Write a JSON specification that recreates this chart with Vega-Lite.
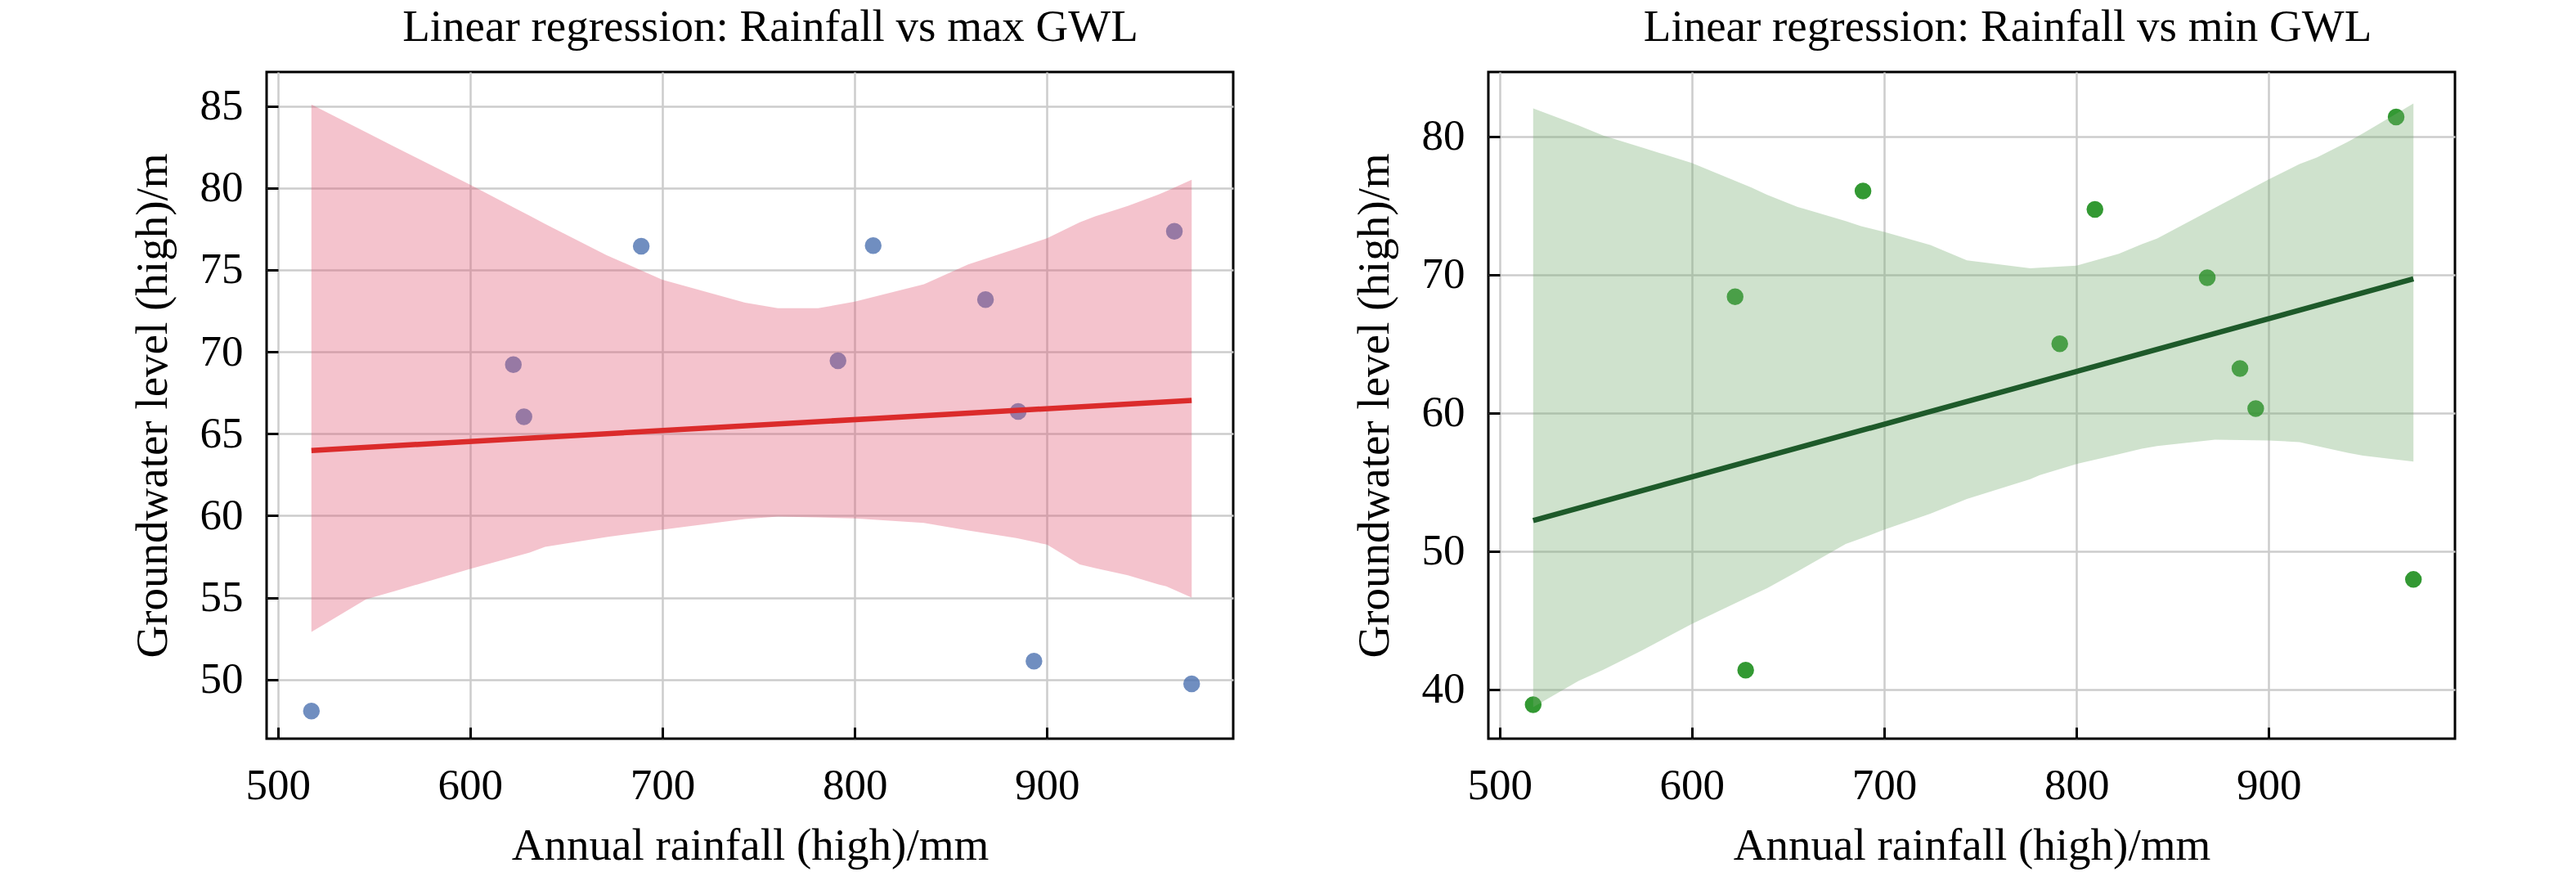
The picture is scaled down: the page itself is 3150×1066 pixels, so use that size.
{
  "$schema": "https://vega.github.io/schema/vega-lite/v6.json",
  "background": "white",
  "padding": {"left": 157, "top": 4, "right": 5, "bottom": 2},
  "spacing": 141,
  "config": {
    "view": {"stroke": "#000000", "strokeWidth": 3, "fill": "white"},
    "font": "Liberation Serif",
    "axis": {
      "labelFont": "Liberation Serif", "labelFontSize": 53, "labelColor": "#000000",
      "titleFont": "Liberation Serif", "titleFontSize": 55, "titleFontWeight": "normal", "titleColor": "#000000",
      "domain": false, "ticks": true, "tickSize": -14, "tickWidth": 3, "tickColor": "#000000",
      "grid": true, "gridColor": "#cccccc", "gridWidth": 2.5,
      "labelOverlap": false, "labelFlush": false
    },
    "axisX": {"labelPadding": 45, "titleBaseline": "alphabetic", "titleX": 591, "titleY": 147},
    "axisY": {"labelPadding": 43, "titleBaseline": "alphabetic", "titleX": -123, "titleY": 407.5, "titleAngle": 270},
    "title": {"font": "Liberation Serif", "fontSize": 55, "fontWeight": "normal", "color": "#000000", "baseline": "alphabetic", "offset": 26.5}
  },
  "datasets": {
    "points": [
      {"rainfall": 517.5, "max_gwl": 48.07, "min_gwl": 38.87},
      {"rainfall": 622.5, "max_gwl": 69.22, "min_gwl": 68.4},
      {"rainfall": 628.0, "max_gwl": 66.03, "min_gwl": 41.37},
      {"rainfall": 689.0, "max_gwl": 76.45, "min_gwl": 76.05},
      {"rainfall": 791.3, "max_gwl": 69.45, "min_gwl": 65.0},
      {"rainfall": 809.6, "max_gwl": 76.48, "min_gwl": 74.72},
      {"rainfall": 868.0, "max_gwl": 73.19, "min_gwl": 69.77},
      {"rainfall": 885.0, "max_gwl": 66.36, "min_gwl": 63.2},
      {"rainfall": 893.2, "max_gwl": 51.12, "min_gwl": 60.3},
      {"rainfall": 966.2, "max_gwl": 77.36, "min_gwl": 81.41},
      {"rainfall": 975.2, "max_gwl": 49.73, "min_gwl": 47.94}
    ],
    "band_max": [
      {"rainfall": 517.5, "lower": 52.9, "upper": 85.1},
      {"rainfall": 546, "lower": 54.9, "upper": 83.4},
      {"rainfall": 561, "lower": 55.4, "upper": 82.5},
      {"rainfall": 600, "lower": 56.75, "upper": 80.2},
      {"rainfall": 631, "lower": 57.75, "upper": 78.3},
      {"rainfall": 639, "lower": 58.1, "upper": 77.8},
      {"rainfall": 671, "lower": 58.7, "upper": 75.9},
      {"rainfall": 700, "lower": 59.15, "upper": 74.4},
      {"rainfall": 743, "lower": 59.8, "upper": 73.0},
      {"rainfall": 760, "lower": 59.95, "upper": 72.66},
      {"rainfall": 781, "lower": 59.9, "upper": 72.66},
      {"rainfall": 800, "lower": 59.83, "upper": 73.06},
      {"rainfall": 836, "lower": 59.56, "upper": 74.13},
      {"rainfall": 859, "lower": 59.1, "upper": 75.33},
      {"rainfall": 884, "lower": 58.63, "upper": 76.3},
      {"rainfall": 900, "lower": 58.23, "upper": 76.93},
      {"rainfall": 917, "lower": 57.03, "upper": 77.9},
      {"rainfall": 925, "lower": 56.8, "upper": 78.27},
      {"rainfall": 942, "lower": 56.36, "upper": 78.9},
      {"rainfall": 958, "lower": 55.8, "upper": 79.6},
      {"rainfall": 962, "lower": 55.69, "upper": 79.8},
      {"rainfall": 975.2, "lower": 55.0, "upper": 80.5}
    ],
    "band_min": [
      {"rainfall": 517.5, "lower": 38.7, "upper": 82.03},
      {"rainfall": 541, "lower": 40.6, "upper": 80.8},
      {"rainfall": 554, "lower": 41.4, "upper": 80.06},
      {"rainfall": 574, "lower": 42.8, "upper": 79.2},
      {"rainfall": 600, "lower": 44.72, "upper": 78.07},
      {"rainfall": 631, "lower": 46.78, "upper": 76.3},
      {"rainfall": 639, "lower": 47.3, "upper": 75.78},
      {"rainfall": 655, "lower": 48.53, "upper": 74.9},
      {"rainfall": 680, "lower": 50.5, "upper": 73.88},
      {"rainfall": 688, "lower": 50.9, "upper": 73.5},
      {"rainfall": 700, "lower": 51.54, "upper": 73.09},
      {"rainfall": 724, "lower": 52.7, "upper": 72.14},
      {"rainfall": 743, "lower": 53.76, "upper": 71.03},
      {"rainfall": 776, "lower": 55.2, "upper": 70.46},
      {"rainfall": 781, "lower": 55.5, "upper": 70.5},
      {"rainfall": 800, "lower": 56.29, "upper": 70.65},
      {"rainfall": 822, "lower": 57.0, "upper": 71.5},
      {"rainfall": 834, "lower": 57.4, "upper": 72.2},
      {"rainfall": 842, "lower": 57.6, "upper": 72.61},
      {"rainfall": 872, "lower": 58.05, "upper": 74.83},
      {"rainfall": 900, "lower": 58.0, "upper": 76.89},
      {"rainfall": 916, "lower": 57.88, "upper": 78.0},
      {"rainfall": 925, "lower": 57.6, "upper": 78.48},
      {"rainfall": 941, "lower": 57.1, "upper": 79.6},
      {"rainfall": 949, "lower": 56.9, "upper": 80.22},
      {"rainfall": 975.2, "lower": 56.47, "upper": 82.38}
    ]
  },
  "hconcat": [
    {
      "width": 1182,
      "height": 815,
      "title": {"text": "Linear regression: Rainfall vs max GWL", "dx": 25},
      "layer": [
        {
          "data": {"name": "points"},
          "mark": {"type": "point", "filled": true, "size": 420, "opacity": 0.8, "color": "#4c72b0"},
          "encoding": {
            "x": {"field": "rainfall", "type": "quantitative", "title": "Annual rainfall (high)/mm",
                  "scale": {"domain": [494.2, 996.8], "nice": false, "zero": false},
                  "axis": {"values": [500, 600, 700, 800, 900]}},
            "y": {"field": "max_gwl", "type": "quantitative", "title": "Groundwater level (high)/m",
                  "scale": {"domain": [46.39, 87.08], "nice": false, "zero": false},
                  "axis": {"values": [50, 55, 60, 65, 70, 75, 80, 85]}}
          }
        },
        {
          "data": {"name": "band_max"},
          "mark": {"type": "area", "color": "#e05470", "opacity": 0.35},
          "encoding": {
            "x": {"field": "rainfall", "type": "quantitative", "title": "Annual rainfall (high)/mm"},
            "y": {"field": "lower", "type": "quantitative", "title": "Groundwater level (high)/m"},
            "y2": {"field": "upper"}
          }
        },
        {
          "data": {"name": "points"},
          "transform": [{"regression": "max_gwl", "on": "rainfall"}],
          "mark": {"type": "line", "color": "#db2b2b", "strokeWidth": 6.5},
          "encoding": {
            "x": {"field": "rainfall", "type": "quantitative", "title": "Annual rainfall (high)/mm"},
            "y": {"field": "max_gwl", "type": "quantitative", "title": "Groundwater level (high)/m"}
          }
        }
      ]
    },
    {
      "width": 1182,
      "height": 815,
      "title": {"text": "Linear regression: Rainfall vs min GWL", "dx": 44},
      "layer": [
        {
          "data": {"name": "points"},
          "mark": {"type": "point", "filled": true, "size": 420, "opacity": 0.8, "color": "#008000"},
          "encoding": {
            "x": {"field": "rainfall", "type": "quantitative", "title": "Annual rainfall (high)/mm",
                  "scale": {"domain": [494.2, 996.8], "nice": false, "zero": false},
                  "axis": {"values": [500, 600, 700, 800, 900]}},
            "y": {"field": "min_gwl", "type": "quantitative", "title": "Groundwater level (high)/m",
                  "scale": {"domain": [36.42, 84.66], "nice": false, "zero": false},
                  "axis": {"values": [40, 50, 60, 70, 80]}}
          }
        },
        {
          "data": {"name": "band_min"},
          "mark": {"type": "area", "color": "#76ac70", "opacity": 0.35},
          "encoding": {
            "x": {"field": "rainfall", "type": "quantitative", "title": "Annual rainfall (high)/mm"},
            "y": {"field": "lower", "type": "quantitative", "title": "Groundwater level (high)/m"},
            "y2": {"field": "upper"}
          }
        },
        {
          "data": {"name": "points"},
          "transform": [{"regression": "min_gwl", "on": "rainfall"}],
          "mark": {"type": "line", "color": "#1e5a2a", "strokeWidth": 6.5},
          "encoding": {
            "x": {"field": "rainfall", "type": "quantitative", "title": "Annual rainfall (high)/mm"},
            "y": {"field": "min_gwl", "type": "quantitative", "title": "Groundwater level (high)/m"}
          }
        }
      ]
    }
  ]
}
